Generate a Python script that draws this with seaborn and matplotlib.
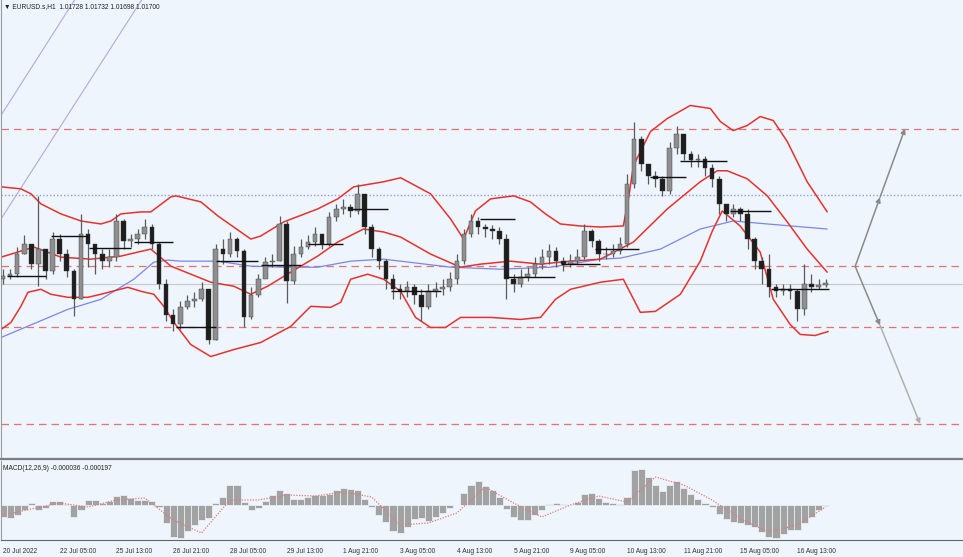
import numpy as np
import matplotlib
matplotlib.use("Agg")
import matplotlib.pyplot as plt
import seaborn as sns

# EURUSD, 4-hour steps starting 20 Jul 21:00 (index in hours on the H1 axis)
open_first = 1.0175
close = [1.0179, 1.0181, 1.0206, 1.0219, 1.0194, 1.0213, 1.0185, 1.0225, 1.0206, 1.0185,
         1.0150, 1.0231, 1.0219, 1.0206, 1.0198, 1.0203, 1.0248, 1.0223, 1.0225, 1.0231,
         1.0240, 1.0219, 1.0169, 1.0131, 1.0119, 1.0140, 1.0148, 1.0150, 1.0163, 1.0100,
         1.0213, 1.0206, 1.0225, 1.0210, 1.0128, 1.0156, 1.0175, 1.0196, 1.0198, 1.0244,
         1.0173, 1.0206, 1.0215, 1.0221, 1.0231, 1.0219, 1.0253, 1.0263, 1.0265, 1.0260,
         1.0281, 1.0240, 1.0213, 1.0198, 1.0175, 1.0163, 1.0160, 1.0165, 1.0156, 1.0140,
         1.0160, 1.0163, 1.0165, 1.0175, 1.0198, 1.0231, 1.0248, 1.0240, 1.0238, 1.0235,
         1.0225, 1.0175, 1.0169, 1.0178, 1.0181, 1.0194, 1.0203, 1.0210, 1.0198, 1.0194,
         1.0198, 1.0203, 1.0235, 1.0223, 1.0206, 1.0206, 1.0210, 1.0219, 1.0294, 1.0350,
         1.0319, 1.0303, 1.0300, 1.0285, 1.0338, 1.0356, 1.0331, 1.0323, 1.0325, 1.0313,
         1.0300, 1.0269, 1.0256, 1.0263, 1.0256, 1.0225, 1.0198, 1.0188, 1.0165, 1.0160,
         1.0163, 1.0160, 1.0138, 1.0169, 1.0165, 1.0168, 1.0170]
high = [1.0188, 1.0188, 1.0215, 1.0230, 1.0219, 1.0278, 1.0206, 1.0234, 1.0231, 1.0213,
        1.0188, 1.0256, 1.0238, 1.0219, 1.0213, 1.0213, 1.0256, 1.0250, 1.0231, 1.0238,
        1.0250, 1.0244, 1.0221, 1.0175, 1.0138, 1.0148, 1.0156, 1.0159, 1.0171, 1.0163,
        1.0219, 1.0225, 1.0234, 1.0228, 1.0213, 1.0165, 1.0181, 1.0203, 1.0206, 1.0254,
        1.0248, 1.0216, 1.0225, 1.0230, 1.0240, 1.0228, 1.0259, 1.0269, 1.0275, 1.0269,
        1.0294, 1.0278, 1.0244, 1.0215, 1.0200, 1.0181, 1.0169, 1.0173, 1.0169, 1.0163,
        1.0169, 1.0171, 1.0175, 1.0184, 1.0206, 1.0238, 1.0256, 1.0253, 1.0244, 1.0243,
        1.0240, 1.0231, 1.0181, 1.0188, 1.0190, 1.0203, 1.0213, 1.0219, 1.0215, 1.0203,
        1.0206, 1.0213, 1.0244, 1.0238, 1.0225, 1.0215, 1.0219, 1.0228, 1.0306, 1.0371,
        1.0353, 1.0319, 1.0310, 1.0303, 1.0346, 1.0366, 1.0356, 1.0335, 1.0331, 1.0328,
        1.0319, 1.0303, 1.0269, 1.0269, 1.0265, 1.0263, 1.0228, 1.0203, 1.0206, 1.0169,
        1.0169, 1.0169, 1.0163, 1.0194, 1.0181, 1.0175, 1.0175]
low = [1.0169, 1.0175, 1.0178, 1.0206, 1.0188, 1.0166, 1.0175, 1.0181, 1.0198, 1.0178,
       1.0129, 1.0150, 1.0190, 1.0181, 1.0188, 1.0190, 1.0198, 1.0213, 1.0215, 1.0219,
       1.0225, 1.0213, 1.0163, 1.0123, 1.0111, 1.0113, 1.0138, 1.0140, 1.0148, 1.0094,
       1.0100, 1.0194, 1.0203, 1.0203, 1.0116, 1.0125, 1.0153, 1.0188, 1.0190, 1.0198,
       1.0146, 1.0169, 1.0203, 1.0213, 1.0216, 1.0213, 1.0216, 1.0248, 1.0256, 1.0253,
       1.0256, 1.0231, 1.0203, 1.0188, 1.0163, 1.0150, 1.0150, 1.0153, 1.0144, 1.0123,
       1.0138, 1.0153, 1.0156, 1.0160, 1.0169, 1.0194, 1.0228, 1.0231, 1.0228, 1.0225,
       1.0219, 1.0150, 1.0159, 1.0165, 1.0173, 1.0178, 1.0188, 1.0194, 1.0190, 1.0185,
       1.0190, 1.0194, 1.0200, 1.0215, 1.0198, 1.0200, 1.0203, 1.0206, 1.0215, 1.0288,
       1.0310, 1.0294, 1.0290, 1.0278, 1.0281, 1.0331, 1.0323, 1.0315, 1.0315, 1.0303,
       1.0290, 1.0256, 1.0248, 1.0253, 1.0248, 1.0213, 1.0188, 1.0169, 1.0153, 1.0153,
       1.0156, 1.0150, 1.0123, 1.0131, 1.0159, 1.0163, 1.0165]

# Bollinger bands (20) and slow moving average, read at turning points (bar index, price)
upper_t = [-1.1, 10.1, 15.8, 21.4, 32.7, 44.0, 55.2, 60.9, 66.5, 77.8, 83.4, 94.7, 97.5, 111.6,
           121.2, 139.8, 145.4, 158.3, 177.5, 188.8, 197.8, 214.7, 224.3, 241.2, 252.5, 259.8,
           266.5, 275.0, 288.0, 297.5, 306.0, 314.4, 325.7, 337.0, 349.9, 352.8, 355.6, 365.2,
           374.7, 387.7, 399.0, 404.6, 411.9, 419.8, 427.1, 434.5, 442.4, 453.6, 464.9]
upper_p = [1.02900, 1.02875, 1.02813, 1.02688, 1.02563, 1.02475, 1.02438, 1.02475, 1.02563,
           1.02588, 1.02588, 1.02775, 1.02788, 1.02713, 1.02538, 1.02250, 1.02288, 1.02463,
           1.02625, 1.02750, 1.02900, 1.02963, 1.03013, 1.02813, 1.02500, 1.02250, 1.02600,
           1.02750, 1.02788, 1.02713, 1.02563, 1.02438, 1.02413, 1.02400, 1.02413, 1.02750,
           1.03163, 1.03588, 1.03750, 1.03913, 1.03875, 1.03713, 1.03600, 1.03663, 1.03775,
           1.03725, 1.03463, 1.02963, 1.02588]
mid_t = [-1.1, 10.1, 17.5, 32.7, 49.6, 66.5, 83.4, 94.7, 117.2, 130.2, 139.8, 149.3, 162.3,
         177.5, 188.8, 203.4, 214.7, 224.3, 241.2, 258.1, 269.4, 286.3, 303.2, 320.1, 337.0,
         355.6, 374.7, 393.3, 402.9, 408.5, 419.8, 431.1, 442.4, 453.6, 464.9]
mid_p = [1.02025, 1.02100, 1.02150, 1.02025, 1.02000, 1.02038, 1.02125, 1.01913, 1.01713,
         1.01663, 1.01563, 1.01663, 1.01838, 1.02038, 1.02213, 1.02375, 1.02338, 1.02275,
         1.02063, 1.01900, 1.01938, 1.01975, 1.01938, 1.01975, 1.02000, 1.02213, 1.02625,
         1.02963, 1.03100, 1.03100, 1.03000, 1.02788, 1.02463, 1.02125, 1.01838]
lower_t = [-1.1, 4.5, 10.1, 14.1, 21.4, 27.0, 36.6, 47.9, 55.2, 70.4, 77.8, 85.1, 90.7, 96.4,
           105.9, 117.2, 130.2, 145.4, 162.3, 173.6, 184.8, 190.5, 196.1, 205.7, 214.7, 224.3,
           232.7, 241.2, 249.6, 258.1, 275.0, 291.9, 303.2, 311.6, 320.1, 337.0, 349.9, 352.8,
           359.5, 368.0, 382.1, 393.3, 400.1, 405.7, 415.8, 427.1, 434.5, 444.0, 449.7, 458.1, 465.5]
lower_p = [1.01125, 1.01213, 1.01413, 1.01588, 1.01625, 1.01563, 1.01525, 1.01525, 1.01563,
           1.01650, 1.01600, 1.01563, 1.01413, 1.01213, 1.00938, 1.00788, 1.00875, 1.00963,
           1.01163, 1.01413, 1.01400, 1.01463, 1.01750, 1.01813, 1.01750, 1.01600, 1.01275,
           1.01150, 1.01150, 1.01275, 1.01275, 1.01250, 1.01275, 1.01500, 1.01625, 1.01713,
           1.01750, 1.01625, 1.01338, 1.01350, 1.01563, 1.01975, 1.02350, 1.02600, 1.02413,
           1.02088, 1.01500, 1.01188, 1.01063, 1.01050, 1.01100]
ma_t = [-1.1, 36.6, 55.2, 73.8, 85.1, 93.0, 100.3, 121.2, 139.8, 158.3, 177.5, 196.1, 214.7,
        224.3, 252.5, 280.6, 308.8, 337.0, 348.3, 370.8, 393.3, 411.9, 431.1, 464.9]
ma_p = [1.01025, 1.01375, 1.01500, 1.01750, 1.01963, 1.01988, 1.01975, 1.01975, 1.01913,
        1.01900, 1.01900, 1.01975, 1.02000, 1.01975, 1.01900, 1.01875, 1.01900, 1.02000,
        1.02013, 1.02125, 1.02375, 1.02475, 1.02438, 1.02375]

# MACD(12,26,9)
macd_hist = [-0.0012, -0.0013, -0.0010, -0.0005, 0.0002, -0.0005, -0.0003, 0.0004, 0.0004, 0.0001,
             -0.0012, -0.0005, 0.0005, 0.0005, 0.0002, 0.0004, 0.0009, 0.0010, 0.0007, 0.0005,
             0.0005, 0.0004, -0.0002, -0.0018, -0.0032, -0.0033, -0.0026, -0.0020, -0.0015, -0.0013,
             0.0002, 0.0008, 0.0020, 0.0020, 0.0003, -0.0005, -0.0003, 0.0004, 0.0010, 0.0015,
             0.0012, 0.0006, 0.0006, 0.0008, 0.0010, 0.0010, 0.0011, 0.0015, 0.0017, 0.0016,
             0.0015, 0.0006, -0.0002, -0.0010, -0.0017, -0.0026, -0.0028, -0.0022, -0.0014, -0.0013,
             -0.0016, -0.0012, -0.0008, -0.0003, 0.0000, 0.0012, 0.0020, 0.0024, 0.0019, 0.0015,
             0.0008, -0.0004, -0.0012, -0.0015, -0.0015, -0.0010, -0.0005, 0.0001, 0.0002, 0.0001,
             0.0000, 0.0003, 0.0011, 0.0012, 0.0007, 0.0003, 0.0002, 0.0001, 0.0008, 0.0035,
             0.0036, 0.0028, 0.0020, 0.0014, 0.0020, 0.0024, 0.0017, 0.0011, 0.0006, 0.0002,
             -0.0002, -0.0009, -0.0014, -0.0017, -0.0018, -0.0020, -0.0022, -0.0027, -0.0032, -0.0033,
             -0.0029, -0.0025, -0.0025, -0.0018, -0.0012, -0.0005, -0.0001]
macd_signal = [-0.0010, -0.0004, 0.0002, -0.0002, 0.0005, 0.0007, -0.0015, -0.0028, 0.0005, 0.0005,
               0.0010, 0.0009, 0.0013, 0.0008, -0.0020, -0.0018, -0.0008, 0.0018, 0.0002, -0.0012,
               0.0000, 0.0009, 0.0003, 0.0028, 0.0020, 0.0005, -0.0014, -0.0027, -0.0020, -0.0002]

tick_labels = ["20 Jul 2022", "22 Jul 05:00", "25 Jul 13:00", "26 Jul 21:00", "28 Jul 05:00",
               "29 Jul 13:00", "1 Aug 21:00", "3 Aug 05:00", "4 Aug 13:00", "5 Aug 21:00",
               "9 Aug 05:00", "10 Aug 13:00", "11 Aug 21:00", "15 Aug 05:00", "16 Aug 13:00"]

# daily open segments (bar start, bar end, price)
day_start = [2, 27, 48.5, 74, 97.5, 120, 145.5, 172, 196, 219, 269, 283.5, 314.5, 334, 365, 382, 410, 433]
day_end = [24, 48, 72, 96, 120, 144, 168, 192, 217, 247, 289, 311.6, 337, 359, 385, 408.5, 433, 466]
day_price = [1.01788, 1.02288, 1.02138, 1.02213, 1.01150, 1.01975, 1.01925, 1.02188, 1.02625,
             1.01600, 1.02500, 1.01775, 1.01938, 1.02125, 1.03025, 1.03225, 1.02600, 1.01625]

red_levels = [1.03625, 1.0191, 1.0115, 0.9995]
blue_level = 1.0280
bid_price = 1.0169

# channel lines top-left (x0, x1, y0, y1)
channel_x0 = [-1.1, -1.1]
channel_x1 = [41.1, 78.9]
channel_y0 = [1.0379, 1.0250]
channel_y1 = [1.0525, 1.0525]

# projection arrows (bar, price)
proj_start = (480.7, 1.0191)
proj_up_mid = (494.7, 1.0277)
proj_up_end = (508.8, 1.03625)
proj_dn_mid = (494.7, 1.01175)
proj_dn_end = (517.3, 0.9995)

bg = "#eef5fc"
sns.set_style("white", {"axes.facecolor": bg, "figure.facecolor": bg})
plt.rcParams["font.family"] = ["Liberation Sans", "DejaVu Sans"]

fig = plt.figure(figsize=(9.63, 5.57), dpi=100)
ax = fig.add_axes([0.001, 98 / 557, 0.999, 461 / 557])
ax2 = fig.add_axes([0.001, 17 / 557, 0.999, 79 / 557], sharex=ax)

bar_t = np.arange(len(close)) * 4
opens = [open_first] + close[:-1]
sig_t = np.arange(len(macd_signal)) * 16

# horizontal levels
for lv in red_levels:
    ax.axhline(lv, color="#e57373", lw=0.9, ls=(0, (6, 4)), zorder=1)
ax.axhline(blue_level, color="#8c9cf0", lw=1.0, ls=(0, (1, 1.5)), zorder=1)
ax.axhline(bid_price, color="#c8c8c8", lw=0.8, zorder=1)

for a, b, c, d in zip(channel_x0, channel_x1, channel_y0, channel_y1):
    ax.plot([a, b], [c, d], color="#b8a8dc", lw=0.8, zorder=1)

# indicator lines
sns.lineplot(x=ma_t, y=ma_p, ax=ax, color="#7b86e8", lw=0.9, zorder=2)
for bt, bp in ((upper_t, upper_p), (mid_t, mid_p), (lower_t, lower_p)):
    sns.lineplot(x=bt, y=bp, ax=ax, color="#e5322f", lw=1.1, zorder=2)

# candles
ax.vlines(bar_t, low, high, color="#5a5a5a", lw=0.9, zorder=3)
up = [c >= o for c, o in zip(close, opens)]
body_h = [abs(c - o) for c, o in zip(close, opens)]
body_b = [min(c, o) for c, o in zip(close, opens)]
ax.bar(bar_t, body_h, bottom=body_b, width=2.6,
       color=["#8f8f8f" if u else "#1e1e1e" for u in up],
       edgecolor="#3a3a3a", linewidth=0.3, zorder=4)

ax.hlines(day_price, day_start, day_end, color="#111111", lw=1.0, zorder=5)

# projection arrows
arr = dict(arrowstyle="-|>", mutation_scale=7, lw=1.1, shrinkA=0, shrinkB=0)
ax.annotate("", xy=proj_up_mid, xytext=proj_start, arrowprops=dict(arr, color="#8a8a8a"))
ax.annotate("", xy=proj_up_end, xytext=proj_up_mid, arrowprops=dict(arr, color="#8a8a8a"))
ax.annotate("", xy=proj_dn_mid, xytext=proj_start, arrowprops=dict(arr, color="#8a8a8a"))
ax.annotate("", xy=proj_dn_end, xytext=proj_dn_mid, arrowprops=dict(arr, color="#b0b0b0"))

ax.set_xlim(-1.13, 541.5)
ax.set_ylim(0.99513, 1.0525)
ax.set_yticks([])
ax.tick_params(axis="x", bottom=False, labelbottom=False)
for s in ["top", "right"]:
    ax.spines[s].set_visible(False)
ax.spines["left"].set_color("#9a9a9a")
ax.spines["bottom"].set_color("#7d7d7d")
ax.spines["bottom"].set_linewidth(1.6)

# MACD panel
ax2.bar(bar_t, macd_hist, width=4, color="#a2a2a2", edgecolor=bg, linewidth=0.5, zorder=2)
sns.lineplot(x=sig_t, y=macd_signal, ax=ax2, color="#e07a7a", lw=0.9, ls=(0, (1, 1.2)), zorder=3)
ax2.set_ylim(-0.0035, 0.0044)
ax2.set_yticks([])
ax2.set_xticks(np.arange(len(tick_labels)) * 32)
ax2.set_xticklabels(tick_labels, fontsize=4.8, color="#333333", ha="left")
ax2.tick_params(axis="x", length=3, color="#555555", pad=3)
for s in ["top", "right"]:
    ax2.spines[s].set_visible(False)
ax2.spines["left"].set_color("#9a9a9a")
ax2.spines["bottom"].set_color("#666666")

fig.text(4 / 963, 1 - 7 / 557, "\u25BC EURUSD.s,H1  1.01728 1.01732 1.01698 1.01700",
         fontsize=4.8, color="#222222", va="center", ha="left")
fig.text(3 / 963, 1 - 468 / 557, "MACD(12,26,9) -0.000036 -0.000197",
         fontsize=4.8, color="#222222", va="center", ha="left")

fig.savefig("out.png", dpi=100, facecolor=bg)
